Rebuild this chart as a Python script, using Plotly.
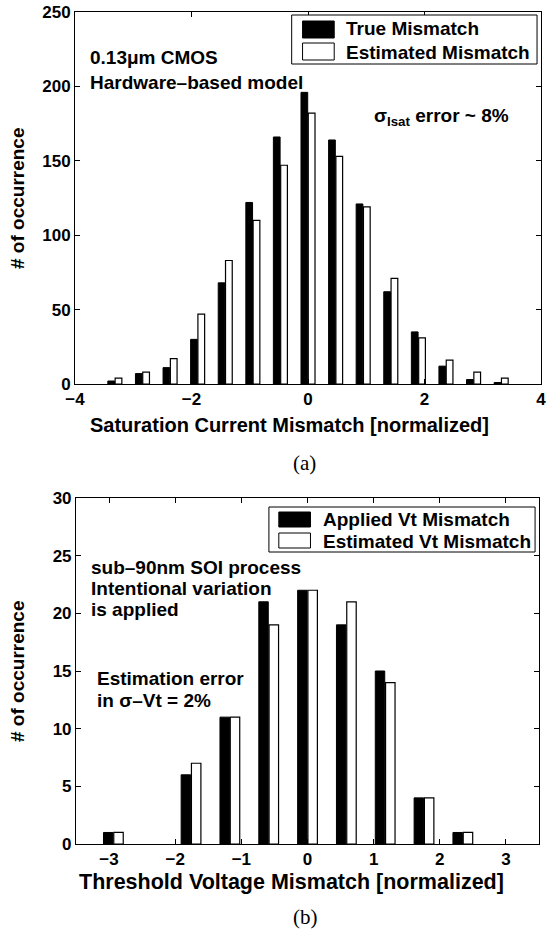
import plotly.graph_objects as go

# ---------------- data ----------------
top_centers = [-3.316, -2.842, -2.368, -1.895, -1.421, -0.947, -0.474, 0.0,
               0.474, 0.947, 1.421, 1.895, 2.368, 2.842, 3.316]
top_true = [2, 7, 11, 30, 68, 122, 166, 196, 164, 121, 62, 35, 12, 3, 1]
top_est = [4, 8, 17, 47, 83, 110, 147, 182, 153, 119, 71, 31, 16, 8, 4]
top_xticks = [-4, -2, 0, 2, 4]
top_yticks = [0, 50, 100, 150, 200, 250]

bot_centers = [-2.935, -2.348, -1.761, -1.174, -0.587, 0.0, 0.587, 1.174, 1.761, 2.348]
bot_applied = [1, 0, 6, 11, 21, 22, 19, 15, 4, 1]
bot_est = [1, 0, 7, 11, 19, 22, 21, 14, 4, 1]
bot_xticks = [-3, -2, -1, 0, 1, 2, 3]
bot_yticks = [0, 5, 10, 15, 20, 25, 30]

# ---------------- layout geometry (pixels) ----------------
W, H = 549, 937
ML, MR, MT, MB = 75, 3, 12, 93
PW, PH = W - ML - MR, H - MT - MB
TOP = dict(x0=75, x1=546, y0=12, y1=384)
BOT = dict(x0=76, x1=544, y0=498, y1=844)

def xdom(b):
    return [(b["x0"] - ML) / PW, (b["x1"] - ML) / PW]

def ydom(b):
    return [(H - MB - b["y1"]) / PH, (H - MB - b["y0"]) / PH]

def fx(b, px):
    return (px - b["x0"]) / (b["x1"] - b["x0"])

def fy(b, py):
    return (b["y1"] - py) / (b["y1"] - b["y0"])

FONT = "Arial, Liberation Sans, sans-serif"
SERIF = "Times New Roman, Liberation Serif, serif"

def lw(vals, w):
    return [0 if v == 0 else w for v in vals]

fig = go.Figure()
fig.add_trace(go.Bar(x=top_centers, y=top_true, name="True Mismatch",
                     marker=dict(color="black", line=dict(color="black", width=lw(top_true, 1))),
                     xaxis="x", yaxis="y", showlegend=False))
fig.add_trace(go.Bar(x=top_centers, y=top_est, name="Estimated Mismatch",
                     marker=dict(color="white", line=dict(color="black", width=lw(top_est, 1.2))),
                     xaxis="x", yaxis="y", showlegend=False))
fig.add_trace(go.Bar(x=bot_centers, y=bot_applied, name="Applied Vt Mismatch",
                     marker=dict(color="black", line=dict(color="black", width=lw(bot_applied, 1))),
                     xaxis="x2", yaxis="y2", showlegend=False))
fig.add_trace(go.Bar(x=bot_centers, y=bot_est, name="Estimated Vt Mismatch",
                     marker=dict(color="white", line=dict(color="black", width=lw(bot_est, 1.2))),
                     xaxis="x2", yaxis="y2", showlegend=False))

axis_common = dict(showline=True, linecolor="black", linewidth=1, mirror="allticks",
                   ticks="inside", ticklen=5, tickcolor="black", tickwidth=1,
                   showgrid=False, zeroline=False, ticklabeloverflow="allow",
                   tickfont=dict(family=FONT, size=17, color="black", weight="bold"))

fig.update_layout(
    width=W, height=H, paper_bgcolor="white", plot_bgcolor="white",
    margin=dict(l=ML, r=MR, t=MT, b=MB),
    barmode="group", bargap=0.47, bargroupgap=0.08,
    xaxis=dict(domain=xdom(TOP), range=[-4, 4], tickvals=top_xticks, anchor="y", **axis_common),
    yaxis=dict(domain=ydom(TOP), range=[0, 250], tickvals=top_yticks, anchor="x", **axis_common),
    xaxis2=dict(domain=xdom(BOT), range=[-3.5, 3.5], tickvals=bot_xticks, anchor="y2", **axis_common),
    yaxis2=dict(domain=ydom(BOT), range=[0, 30], tickvals=bot_yticks, anchor="x2", **axis_common),
)

ann = []
shapes = []

def text(xref, yref, x, y, s, size=19, xanchor="left", yanchor="middle", bold=True,
         family=FONT, angle=0, xshift=0, yshift=0):
    ann.append(dict(xref=xref, yref=yref, x=x, y=y, text=s, showarrow=False,
                    xanchor=xanchor, yanchor=yanchor, textangle=angle,
                    xshift=xshift, yshift=yshift,
                    font=dict(family=family, size=size, color="black",
                              weight="bold" if bold else "normal")))

# ---- top panel texts ----
text("x domain", "y domain", fx(TOP, 292), 0, "Saturation Current Mismatch [normalized]",
     size=20, xanchor="center", yshift=-(425 - TOP["y1"]))
text("x domain", "y domain", fx(TOP, 307), 0, "(a)", size=21, xanchor="center", bold=False,
     family=SERIF, yshift=-(463 - TOP["y1"]))
text("x domain", "y domain", 0, 0.5, "# of occurrence", size=19, xanchor="center",
     angle=-90, xshift=17 - TOP["x0"])
text("x domain", "y domain", fx(TOP, 88), fy(TOP, 57), "0.13μm CMOS")
text("x domain", "y domain", fx(TOP, 88), fy(TOP, 82), "Hardware–based model")
text("x domain", "y domain", fx(TOP, 375), fy(TOP, 117), "σ<sub>Isat</sub> error ~ 8%")

# ---- bottom panel texts ----
text("x2 domain", "y2 domain", fx(BOT, 294), 0, "Threshold Voltage Mismatch [normalized]",
     size=21.5, xanchor="center", yshift=-(882 - BOT["y1"]))
text("x2 domain", "y2 domain", fx(BOT, 308), 0, "(b)", size=21, xanchor="center", bold=False,
     family=SERIF, yshift=-(917 - BOT["y1"]))
text("x2 domain", "y2 domain", 0, 0.5, "# of occurrence", size=19, xanchor="center",
     angle=-90, xshift=17 - BOT["x0"])
text("x2 domain", "y2 domain", fx(BOT, 89), fy(BOT, 567), "sub–90nm SOI process")
text("x2 domain", "y2 domain", fx(BOT, 89), fy(BOT, 588), "Intentional variation")
text("x2 domain", "y2 domain", fx(BOT, 89), fy(BOT, 609), "is applied")
text("x2 domain", "y2 domain", fx(BOT, 95), fy(BOT, 678), "Estimation error")
text("x2 domain", "y2 domain", fx(BOT, 95), fy(BOT, 700), "in σ–Vt = 2%")

# ---- custom legends ----
def legend(b, xr, yr, box, sw_x, sw1, sw2, tx, ty1, ty2, labels):
    shapes.append(dict(type="rect", xref=xr, yref=yr,
                       x0=fx(b, box[0]), x1=fx(b, box[1]), y0=fy(b, box[3]), y1=fy(b, box[2]),
                       line=dict(color="black", width=1), fillcolor="white", layer="above"))
    shapes.append(dict(type="rect", xref=xr, yref=yr,
                       x0=fx(b, sw_x[0]), x1=fx(b, sw_x[1]), y0=fy(b, sw1[1]), y1=fy(b, sw1[0]),
                       line=dict(color="black", width=1), fillcolor="black", layer="above"))
    shapes.append(dict(type="rect", xref=xr, yref=yr,
                       x0=fx(b, sw_x[0]), x1=fx(b, sw_x[1]), y0=fy(b, sw2[1]), y1=fy(b, sw2[0]),
                       line=dict(color="black", width=1), fillcolor="white", layer="above"))
    text(xr, yr, fx(b, tx), fy(b, ty1), labels[0])
    text(xr, yr, fx(b, tx), fy(b, ty2), labels[1])

legend(TOP, "x domain", "y domain", (294, 542, 15, 64), (305, 337), (21, 38), (43, 60),
       347, 29, 52, ["True Mismatch", "Estimated Mismatch"])
legend(BOT, "x2 domain", "y2 domain", (271, 540, 507, 552), (281, 313), (512, 527), (533, 548),
       324, 519, 541, ["Applied Vt Mismatch", "Estimated Vt Mismatch"])

fig.update_layout(annotations=ann, shapes=shapes)
fig.write_html("out.html")
